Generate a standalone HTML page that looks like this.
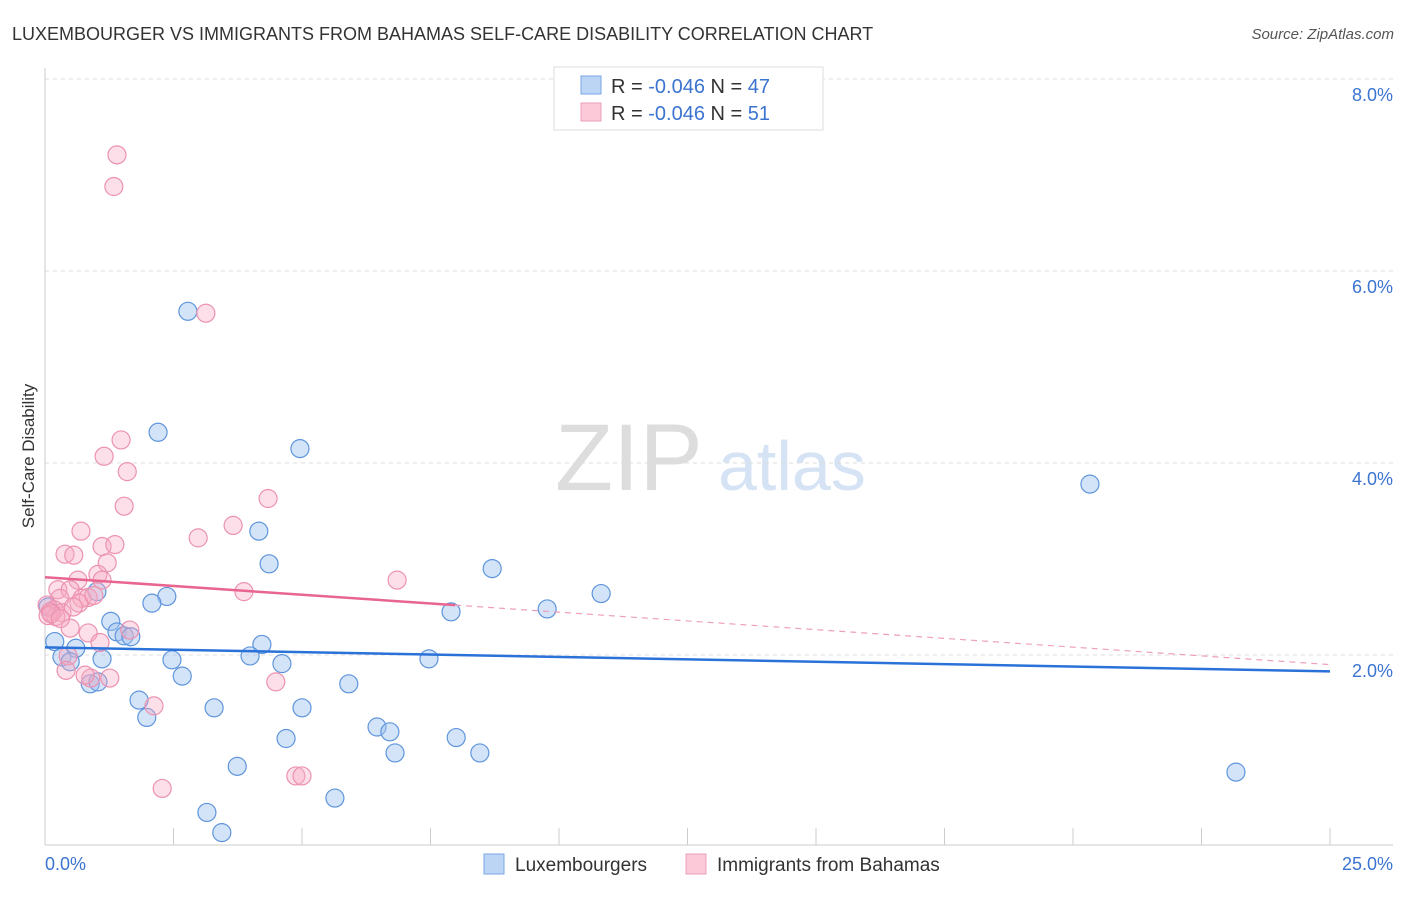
<!DOCTYPE html>
<html><head><meta charset="utf-8"><style>
body{margin:0;background:#fff;font-family:"Liberation Sans",sans-serif;}
svg text{font-family:"Liberation Sans",sans-serif;}
</style></head><body>
<svg id="chart" width="1406" height="892" xmlns="http://www.w3.org/2000/svg">
<text x="12" y="40" font-size="18" fill="#333">LUXEMBOURGER VS IMMIGRANTS FROM BAHAMAS SELF-CARE DISABILITY CORRELATION CHART</text>
<text x="1394" y="39" font-size="15" fill="#555" font-style="italic" text-anchor="end">Source: ZipAtlas.com</text>
<text transform="translate(34,456) rotate(-90)" font-size="17" fill="#333" text-anchor="middle">Self-Care Disability</text>
<text x="555" y="490" font-size="95" fill="#ddd" font-family="Liberation Serif">ZIP</text>
<text x="718" y="490" font-size="70" fill="#d5e3f5">atlas</text>
<g id="grid"></g><g id="axes"></g><g id="pts"></g><g id="trend"></g>
<g>
<rect x="554" y="67" width="269" height="63" fill="#fff" stroke="#ddd"/>
<rect x="581" y="76" width="20" height="18" fill="#bcd5f5" stroke="#7aa6e3"/>
<rect x="581" y="103" width="20" height="18" fill="#fcc9d8" stroke="#ee9fb9"/>
<text x="611" y="93" font-size="20" fill="#333">R = <tspan fill="#3b74d1">-0.046</tspan>   N = <tspan fill="#3b74d1">47</tspan></text>
<text x="611" y="120" font-size="20" fill="#333">R = <tspan fill="#3b74d1">-0.046</tspan>   N =  <tspan fill="#3b74d1">51</tspan></text>
</g>
<g>
<rect x="484" y="854" width="20" height="20" fill="#bcd5f5" stroke="#7aa6e3"/>
<text x="515" y="871" font-size="19" fill="#333">Luxembourgers</text>
<rect x="686" y="854" width="20" height="20" fill="#fcc9d8" stroke="#ee9fb9"/>
<text x="717" y="871" font-size="19" fill="#333">Immigrants from Bahamas</text>
</g>
</svg>
<script>
const xTicks=[0,2.5,5,7.5,10,12.5,15,17.5,20,22.5,25];
const yTicks=[2,4,6,8];
const yTickLabels=["2.0%","4.0%","6.0%","8.0%"];
const xEndLabels=["0.0%","25.0%"];
const luxX=[2.78,2.20,4.96,20.33,4.16,4.36,8.70,10.82,2.37,2.08,1.01,9.77,7.90,1.28,1.40,1.54,1.67,4.22,0.60,0.19,3.99,4.61,7.47,2.47,0.33,0.49,1.11,2.67,5.91,0.88,1.83,1.98,3.29,5.00,6.46,6.71,4.69,8.00,6.81,8.46,3.74,23.17,5.64,3.15,3.44,0.06,1.03];
const luxY=[5.58,4.32,4.15,3.78,3.29,2.95,2.90,2.64,2.61,2.54,2.66,2.48,2.45,2.35,2.24,2.20,2.19,2.11,2.07,2.14,1.99,1.91,1.96,1.95,1.98,1.93,1.96,1.78,1.70,1.70,1.53,1.35,1.45,1.45,1.25,1.20,1.13,1.14,0.98,0.98,0.84,0.78,0.51,0.36,0.15,2.50,1.72];
const bahX=[1.40,1.34,3.13,1.48,1.15,1.60,4.34,1.54,3.66,0.70,2.98,0.39,0.56,1.11,1.36,1.21,6.85,1.03,0.64,3.87,1.11,0.25,0.49,0.72,0.84,0.29,0.04,0.18,0.33,0.66,0.10,0.21,0.06,0.49,1.65,0.84,1.07,0.45,0.41,0.89,1.26,0.78,4.49,2.12,4.88,5.00,2.28,0.12,0.30,0.95,0.55];
const bahY=[7.21,6.88,5.56,4.24,4.07,3.91,3.63,3.55,3.35,3.29,3.22,3.05,3.04,3.13,3.15,2.96,2.78,2.84,2.78,2.66,2.78,2.68,2.68,2.59,2.60,2.59,2.52,2.47,2.44,2.54,2.45,2.40,2.41,2.28,2.26,2.23,2.13,1.99,1.84,1.76,1.76,1.79,1.72,1.47,0.74,0.74,0.61,2.43,2.38,2.62,2.50];
const luxTrend=[2.08,1.83];
const bahTrend=[2.81,1.90];
const bahSolidEnd=7.98;
const X=v=>45+v/25*1285, Y=v=>847-v*96;
const NS="http://www.w3.org/2000/svg";
function mk(tag,attrs,parent){const e=document.createElementNS(NS,tag);for(const k in attrs)e.setAttribute(k,attrs[k]);document.getElementById(parent).appendChild(e);return e;}
yTicks.forEach((t,i)=>{
 const l=mk('line',{x1:45,x2:1393,y1:Y(t),y2:Y(t),stroke:'#ddd','stroke-dasharray':'4,4'},'grid');
 
 
 const tx=mk('text',{x:1393,y:Y(t)+22,'font-size':18,fill:'#3b74d1','text-anchor':'end'},'grid');
 tx.textContent=yTickLabels[i];
 
 
});
const ax=mk('line',{x1:45,x2:45,y1:68,y2:845,stroke:'#ccc'},'axes');


const bx=mk('line',{x1:45,x2:1393,y1:845,y2:845,stroke:'#ccc'},'axes');


xTicks.forEach(t=>{
 const l=mk('line',{x1:X(t),x2:X(t),y1:828,y2:845,stroke:'#ccc'},'axes');
 
 
});
const xl0=mk('text',{x:45,y:870,'font-size':18,fill:'#3b74d1'},'axes');
xl0.textContent=xEndLabels[0];


const xl1=mk('text',{x:1393,y:870,'font-size':18,fill:'#3b74d1','text-anchor':'end'},'axes');
xl1.textContent=xEndLabels[1];


luxX.forEach((v,i)=>{
 const c=mk('circle',{cx:X(v),cy:Y(luxY[i]),r:9,fill:'rgba(160,196,240,0.45)',stroke:'#5f95dc','stroke-width':1.2},'pts');
 
 
});
bahX.forEach((v,i)=>{
 const c=mk('circle',{cx:X(v),cy:Y(bahY[i]),r:9,fill:'rgba(246,170,195,0.38)',stroke:'#ec92b0','stroke-width':1.2},'pts');
 
 
});
const lt=mk('line',{x1:X(0),y1:Y(luxTrend[0]),x2:X(25),y2:Y(luxTrend[1]),stroke:'#2a72d8','stroke-width':2.5},'trend');


const by=v=>bahTrend[0]+(bahTrend[1]-bahTrend[0])*v/25;
const bt=mk('line',{x1:X(0),y1:Y(bahTrend[0]),x2:X(bahSolidEnd),y2:Y(by(bahSolidEnd)),stroke:'#e8658f','stroke-width':2.5},'trend');


const bd=mk('line',{x1:X(bahSolidEnd),y1:Y(by(bahSolidEnd)),x2:X(25),y2:Y(bahTrend[1]),stroke:'#eea0b8','stroke-width':1.2,'stroke-dasharray':'6,5'},'trend');


</script>
</body></html>
